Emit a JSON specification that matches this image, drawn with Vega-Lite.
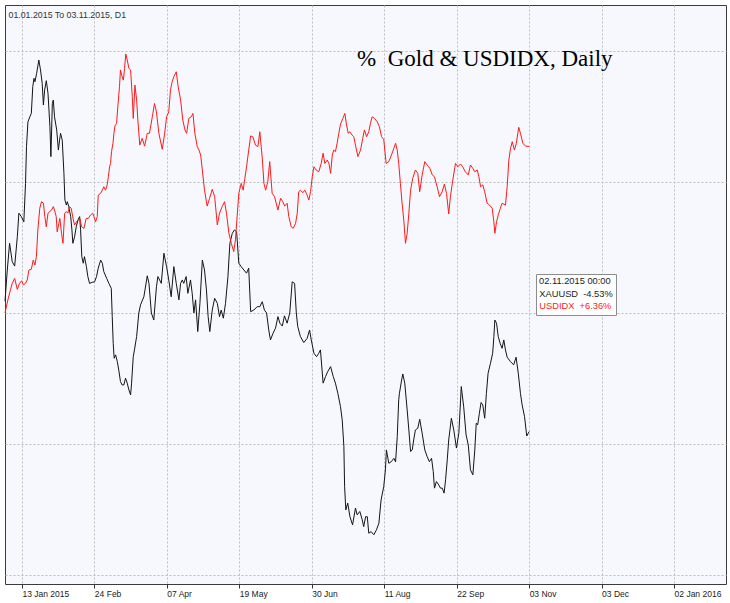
{
  "$schema": "https://vega.github.io/schema/vega-lite/v6.json",
  "width": 721,
  "height": 579,
  "autosize": {"type": "none"},
  "padding": {"left": 5, "top": 5, "right": 4, "bottom": 19},
  "background": "#ffffff",
  "title": {
    "text": "%\u00a0 Gold & USDIDX, Daily",
    "anchor": "start",
    "frame": "group",
    "dx": 352,
    "dy": 84,
    "offset": 0,
    "baseline": "alphabetic",
    "font": "Liberation Serif",
    "fontSize": 23,
    "fontWeight": "normal",
    "color": "#000000"
  },
  "config": {
    "view": {"stroke": "#3c3c3c", "strokeWidth": 1, "fill": "#f6f8fd"}
  },
  "data": {
    "values": [
      {"series":"XAUUSD","bar":0,"pct":0.45},{"series":"XAUUSD","bar":0.95,"pct":1.64},{"series":"XAUUSD","bar":1.9,"pct":2.66},{"series":"XAUUSD","bar":3.0,"pct":1.96},{"series":"XAUUSD","bar":4.0,"pct":1.79},{"series":"XAUUSD","bar":5.1,"pct":2.91},{"series":"XAUUSD","bar":5.75,"pct":3.81},{"series":"XAUUSD","bar":6.75,"pct":3.68},{"series":"XAUUSD","bar":7.8,"pct":3.48},{"series":"XAUUSD","bar":8.5,"pct":4.95},{"series":"XAUUSD","bar":8.9,"pct":6.35},{"series":"XAUUSD","bar":9.5,"pct":7.30},{"series":"XAUUSD","bar":10.3,"pct":7.49},{"series":"XAUUSD","bar":10.9,"pct":7.62},{"series":"XAUUSD","bar":11.5,"pct":8.64},{"series":"XAUUSD","bar":12.0,"pct":8.96},{"series":"XAUUSD","bar":12.4,"pct":8.83},{"series":"XAUUSD","bar":13.1,"pct":9.15},{"series":"XAUUSD","bar":14.0,"pct":9.66},{"series":"XAUUSD","bar":14.7,"pct":9.28},{"series":"XAUUSD","bar":15.4,"pct":8.77},{"series":"XAUUSD","bar":15.9,"pct":7.94},{"series":"XAUUSD","bar":16.4,"pct":8.51},{"series":"XAUUSD","bar":17.1,"pct":8.87},{"series":"XAUUSD","bar":17.8,"pct":8.39},{"series":"XAUUSD","bar":18.6,"pct":7.11},{"series":"XAUUSD","bar":19.0,"pct":5.97},{"series":"XAUUSD","bar":19.6,"pct":8.00},{"series":"XAUUSD","bar":20.0,"pct":8.13},{"series":"XAUUSD","bar":20.5,"pct":7.49},{"series":"XAUUSD","bar":21.4,"pct":6.99},{"series":"XAUUSD","bar":22.1,"pct":6.22},{"series":"XAUUSD","bar":22.6,"pct":6.60},{"series":"XAUUSD","bar":23.0,"pct":6.86},{"series":"XAUUSD","bar":23.7,"pct":6.60},{"series":"XAUUSD","bar":24.4,"pct":5.33},{"series":"XAUUSD","bar":24.8,"pct":4.31},{"series":"XAUUSD","bar":25.4,"pct":4.12},{"series":"XAUUSD","bar":25.8,"pct":4.25},{"series":"XAUUSD","bar":26.4,"pct":4.06},{"series":"XAUUSD","bar":27.2,"pct":3.68},{"series":"XAUUSD","bar":27.7,"pct":3.17},{"series":"XAUUSD","bar":28.1,"pct":2.66},{"series":"XAUUSD","bar":28.8,"pct":2.91},{"series":"XAUUSD","bar":29.5,"pct":3.29},{"series":"XAUUSD","bar":30.2,"pct":3.55},{"series":"XAUUSD","bar":30.9,"pct":3.68},{"series":"XAUUSD","bar":31.3,"pct":3.17},{"series":"XAUUSD","bar":31.8,"pct":2.15},{"series":"XAUUSD","bar":32.4,"pct":1.90},{"series":"XAUUSD","bar":32.9,"pct":2.15},{"series":"XAUUSD","bar":33.7,"pct":1.77},{"series":"XAUUSD","bar":34.3,"pct":1.39},{"series":"XAUUSD","bar":35.0,"pct":1.13},{"series":"XAUUSD","bar":36.1,"pct":1.17},{"series":"XAUUSD","bar":37.1,"pct":1.19},{"series":"XAUUSD","bar":37.9,"pct":1.39},{"series":"XAUUSD","bar":38.6,"pct":1.71},{"series":"XAUUSD","bar":39.6,"pct":2.02},{"series":"XAUUSD","bar":40.3,"pct":1.90},{"series":"XAUUSD","bar":40.9,"pct":1.58},{"series":"XAUUSD","bar":42.1,"pct":1.32},{"series":"XAUUSD","bar":43.0,"pct":1.13},{"series":"XAUUSD","bar":44.0,"pct":0.94},{"series":"XAUUSD","bar":44.4,"pct":-0.14},{"series":"XAUUSD","bar":44.8,"pct":-1.16},{"series":"XAUUSD","bar":45.2,"pct":-1.73},{"series":"XAUUSD","bar":45.8,"pct":-1.60},{"series":"XAUUSD","bar":46.5,"pct":-1.86},{"series":"XAUUSD","bar":47.1,"pct":-2.18},{"series":"XAUUSD","bar":47.8,"pct":-2.62},{"series":"XAUUSD","bar":48.5,"pct":-2.75},{"series":"XAUUSD","bar":49.2,"pct":-2.75},{"series":"XAUUSD","bar":49.9,"pct":-2.49},{"series":"XAUUSD","bar":50.6,"pct":-2.68},{"series":"XAUUSD","bar":51.3,"pct":-2.94},{"series":"XAUUSD","bar":52.0,"pct":-3.13},{"series":"XAUUSD","bar":52.4,"pct":-2.68},{"series":"XAUUSD","bar":53.1,"pct":-1.67},{"series":"XAUUSD","bar":53.6,"pct":-1.41},{"series":"XAUUSD","bar":54.5,"pct":-0.90},{"series":"XAUUSD","bar":55.4,"pct":0.0},{"series":"XAUUSD","bar":56.1,"pct":0.31},{"series":"XAUUSD","bar":57.5,"pct":0.62},{"series":"XAUUSD","bar":58.9,"pct":1.42},{"series":"XAUUSD","bar":59.6,"pct":1.13},{"series":"XAUUSD","bar":60.6,"pct":0.0},{"series":"XAUUSD","bar":61.6,"pct":-0.27},{"series":"XAUUSD","bar":62.7,"pct":1.00},{"series":"XAUUSD","bar":63.3,"pct":1.39},{"series":"XAUUSD","bar":64.7,"pct":1.13},{"series":"XAUUSD","bar":65.8,"pct":2.28},{"series":"XAUUSD","bar":66.9,"pct":1.77},{"series":"XAUUSD","bar":67.8,"pct":1.26},{"series":"XAUUSD","bar":68.8,"pct":0.62},{"series":"XAUUSD","bar":69.9,"pct":1.77},{"series":"XAUUSD","bar":70.9,"pct":1.13},{"series":"XAUUSD","bar":72.0,"pct":0.50},{"series":"XAUUSD","bar":72.7,"pct":1.13},{"series":"XAUUSD","bar":73.4,"pct":1.26},{"series":"XAUUSD","bar":74.0,"pct":1.13},{"series":"XAUUSD","bar":75.0,"pct":1.39},{"series":"XAUUSD","bar":75.7,"pct":0.75},{"series":"XAUUSD","bar":76.8,"pct":1.26},{"series":"XAUUSD","bar":77.5,"pct":0.75},{"series":"XAUUSD","bar":78.2,"pct":0.0},{"series":"XAUUSD","bar":78.9,"pct":0.50},{"series":"XAUUSD","bar":79.8,"pct":-0.71},{"series":"XAUUSD","bar":80.7,"pct":0.37},{"series":"XAUUSD","bar":81.7,"pct":2.02},{"series":"XAUUSD","bar":82.6,"pct":1.64},{"series":"XAUUSD","bar":83.4,"pct":0.88},{"series":"XAUUSD","bar":84.1,"pct":-0.14},{"series":"XAUUSD","bar":84.8,"pct":-0.71},{"series":"XAUUSD","bar":85.8,"pct":0.11},{"series":"XAUUSD","bar":86.8,"pct":0.56},{"series":"XAUUSD","bar":87.9,"pct":0.37},{"series":"XAUUSD","bar":88.8,"pct":-0.14},{"series":"XAUUSD","bar":89.5,"pct":0.11},{"series":"XAUUSD","bar":90.4,"pct":-0.20},{"series":"XAUUSD","bar":91.3,"pct":0.37},{"series":"XAUUSD","bar":92.3,"pct":1.39},{"series":"XAUUSD","bar":93.1,"pct":2.66},{"series":"XAUUSD","bar":94.1,"pct":3.04},{"series":"XAUUSD","bar":95.0,"pct":3.17},{"series":"XAUUSD","bar":95.9,"pct":3.10},{"series":"XAUUSD","bar":96.8,"pct":1.90},{"series":"XAUUSD","bar":97.8,"pct":1.77},{"series":"XAUUSD","bar":98.9,"pct":1.64},{"series":"XAUUSD","bar":100.0,"pct":1.52},{"series":"XAUUSD","bar":100.9,"pct":1.71},{"series":"XAUUSD","bar":101.7,"pct":0.05},{"series":"XAUUSD","bar":103.0,"pct":0.11},{"series":"XAUUSD","bar":104.4,"pct":0.24},{"series":"XAUUSD","bar":105.5,"pct":0.24},{"series":"XAUUSD","bar":106.5,"pct":0.43},{"series":"XAUUSD","bar":107.4,"pct":0.11},{"series":"XAUUSD","bar":108.3,"pct":0.0},{"series":"XAUUSD","bar":109.2,"pct":-0.65},{"series":"XAUUSD","bar":109.9,"pct":-1.03},{"series":"XAUUSD","bar":111.0,"pct":-0.77},{"series":"XAUUSD","bar":112.0,"pct":-0.58},{"series":"XAUUSD","bar":113.0,"pct":-0.14},{"series":"XAUUSD","bar":113.8,"pct":-0.39},{"series":"XAUUSD","bar":114.8,"pct":-0.50},{"series":"XAUUSD","bar":115.7,"pct":-0.11},{"series":"XAUUSD","bar":116.8,"pct":-0.39},{"series":"XAUUSD","bar":117.9,"pct":0.0},{"series":"XAUUSD","bar":118.9,"pct":1.19},{"series":"XAUUSD","bar":119.9,"pct":1.13},{"series":"XAUUSD","bar":120.6,"pct":0.0},{"series":"XAUUSD","bar":121.2,"pct":-0.52},{"series":"XAUUSD","bar":122.3,"pct":-0.90},{"series":"XAUUSD","bar":123.7,"pct":-1.13},{"series":"XAUUSD","bar":125.1,"pct":-0.97},{"series":"XAUUSD","bar":126.1,"pct":-0.65},{"series":"XAUUSD","bar":126.8,"pct":-1.03},{"series":"XAUUSD","bar":127.9,"pct":-1.54},{"series":"XAUUSD","bar":129.0,"pct":-1.67},{"series":"XAUUSD","bar":129.9,"pct":-1.54},{"series":"XAUUSD","bar":130.6,"pct":-1.41},{"series":"XAUUSD","bar":131.7,"pct":-2.68},{"series":"XAUUSD","bar":132.7,"pct":-2.43},{"series":"XAUUSD","bar":133.6,"pct":-2.24},{"series":"XAUUSD","bar":134.8,"pct":-2.05},{"series":"XAUUSD","bar":135.9,"pct":-2.43},{"series":"XAUUSD","bar":136.8,"pct":-2.68},{"series":"XAUUSD","bar":137.8,"pct":-3.07},{"series":"XAUUSD","bar":138.9,"pct":-3.58},{"series":"XAUUSD","bar":139.6,"pct":-4.08},{"series":"XAUUSD","bar":140.3,"pct":-5.10},{"series":"XAUUSD","bar":140.6,"pct":-6.63},{"series":"XAUUSD","bar":141.1,"pct":-7.52},{"series":"XAUUSD","bar":141.9,"pct":-7.26},{"series":"XAUUSD","bar":142.8,"pct":-7.78},{"series":"XAUUSD","bar":143.9,"pct":-8.09},{"series":"XAUUSD","bar":145.1,"pct":-7.45},{"series":"XAUUSD","bar":145.8,"pct":-7.71},{"series":"XAUUSD","bar":146.9,"pct":-7.58},{"series":"XAUUSD","bar":147.9,"pct":-7.90},{"series":"XAUUSD","bar":148.5,"pct":-8.16},{"series":"XAUUSD","bar":149.3,"pct":-7.78},{"series":"XAUUSD","bar":150.0,"pct":-7.78},{"series":"XAUUSD","bar":150.6,"pct":-8.41},{"series":"XAUUSD","bar":151.6,"pct":-8.35},{"series":"XAUUSD","bar":152.7,"pct":-8.47},{"series":"XAUUSD","bar":153.8,"pct":-8.28},{"series":"XAUUSD","bar":154.8,"pct":-8.03},{"series":"XAUUSD","bar":155.7,"pct":-7.14},{"series":"XAUUSD","bar":156.8,"pct":-6.63},{"series":"XAUUSD","bar":157.5,"pct":-5.99},{"series":"XAUUSD","bar":157.9,"pct":-5.23},{"series":"XAUUSD","bar":158.9,"pct":-5.74},{"series":"XAUUSD","bar":159.9,"pct":-5.68},{"series":"XAUUSD","bar":161.0,"pct":-5.55},{"series":"XAUUSD","bar":161.7,"pct":-5.69},{"series":"XAUUSD","bar":162.4,"pct":-4.72},{"series":"XAUUSD","bar":163.0,"pct":-3.32},{"series":"XAUUSD","bar":163.3,"pct":-3.07},{"series":"XAUUSD","bar":164.2,"pct":-2.56},{"series":"XAUUSD","bar":164.7,"pct":-2.33},{"series":"XAUUSD","bar":165.5,"pct":-2.68},{"series":"XAUUSD","bar":166.5,"pct":-3.70},{"series":"XAUUSD","bar":167.2,"pct":-4.47},{"series":"XAUUSD","bar":167.9,"pct":-5.29},{"series":"XAUUSD","bar":168.6,"pct":-5.23},{"series":"XAUUSD","bar":169.2,"pct":-4.85},{"series":"XAUUSD","bar":169.9,"pct":-4.47},{"series":"XAUUSD","bar":170.9,"pct":-4.40},{"series":"XAUUSD","bar":171.7,"pct":-4.06},{"series":"XAUUSD","bar":172.7,"pct":-4.59},{"series":"XAUUSD","bar":173.8,"pct":-5.23},{"series":"XAUUSD","bar":174.8,"pct":-5.49},{"series":"XAUUSD","bar":175.7,"pct":-5.68},{"series":"XAUUSD","bar":176.6,"pct":-5.55},{"series":"XAUUSD","bar":177.3,"pct":-6.06},{"series":"XAUUSD","bar":177.8,"pct":-6.69},{"series":"XAUUSD","bar":178.6,"pct":-6.44},{"series":"XAUUSD","bar":179.6,"pct":-6.57},{"series":"XAUUSD","bar":180.3,"pct":-6.69},{"series":"XAUUSD","bar":181.0,"pct":-6.69},{"series":"XAUUSD","bar":181.8,"pct":-6.88},{"series":"XAUUSD","bar":182.4,"pct":-6.37},{"series":"XAUUSD","bar":183.1,"pct":-5.61},{"series":"XAUUSD","bar":183.7,"pct":-4.85},{"series":"XAUUSD","bar":184.8,"pct":-4.02},{"series":"XAUUSD","bar":185.8,"pct":-4.47},{"series":"XAUUSD","bar":186.9,"pct":-5.16},{"series":"XAUUSD","bar":187.9,"pct":-4.59},{"series":"XAUUSD","bar":188.9,"pct":-2.81},{"series":"XAUUSD","bar":189.9,"pct":-3.58},{"series":"XAUUSD","bar":190.9,"pct":-4.66},{"series":"XAUUSD","bar":191.8,"pct":-5.04},{"series":"XAUUSD","bar":192.7,"pct":-5.99},{"series":"XAUUSD","bar":193.7,"pct":-6.18},{"series":"XAUUSD","bar":194.5,"pct":-5.23},{"series":"XAUUSD","bar":195.1,"pct":-4.21},{"series":"XAUUSD","bar":195.7,"pct":-4.27},{"series":"XAUUSD","bar":196.4,"pct":-3.83},{"series":"XAUUSD","bar":197.1,"pct":-3.42},{"series":"XAUUSD","bar":197.8,"pct":-3.51},{"series":"XAUUSD","bar":198.6,"pct":-4.02},{"series":"XAUUSD","bar":199.3,"pct":-3.07},{"series":"XAUUSD","bar":200.0,"pct":-2.30},{"series":"XAUUSD","bar":201.0,"pct":-1.92},{"series":"XAUUSD","bar":201.9,"pct":-1.54},{"series":"XAUUSD","bar":202.4,"pct":-0.90},{"series":"XAUUSD","bar":202.8,"pct":-0.27},{"series":"XAUUSD","bar":203.5,"pct":-0.39},{"series":"XAUUSD","bar":204.2,"pct":-0.90},{"series":"XAUUSD","bar":205.0,"pct":-1.16},{"series":"XAUUSD","bar":205.8,"pct":-1.35},{"series":"XAUUSD","bar":206.5,"pct":-1.03},{"series":"XAUUSD","bar":207.2,"pct":-1.41},{"series":"XAUUSD","bar":207.9,"pct":-1.69},{"series":"XAUUSD","bar":209.3,"pct":-1.86},{"series":"XAUUSD","bar":210.6,"pct":-1.98},{"series":"XAUUSD","bar":211.6,"pct":-1.69},{"series":"XAUUSD","bar":212.5,"pct":-2.30},{"series":"XAUUSD","bar":213.4,"pct":-3.07},{"series":"XAUUSD","bar":214.1,"pct":-3.51},{"series":"XAUUSD","bar":215.1,"pct":-3.96},{"series":"XAUUSD","bar":216.0,"pct":-4.70},{"series":"XAUUSD","bar":217.0,"pct":-4.53},
      {"series":"USDIDX","bar":0,"pct":0},{"series":"USDIDX","bar":1.2,"pct":0.50},{"series":"USDIDX","bar":2.3,"pct":0.90},{"series":"USDIDX","bar":3.0,"pct":1.13},{"series":"USDIDX","bar":4.0,"pct":1.32},{"series":"USDIDX","bar":5.1,"pct":0.90},{"series":"USDIDX","bar":6.0,"pct":1.13},{"series":"USDIDX","bar":6.9,"pct":1.23},{"series":"USDIDX","bar":7.6,"pct":1.07},{"series":"USDIDX","bar":8.5,"pct":1.13},{"series":"USDIDX","bar":9.2,"pct":1.26},{"series":"USDIDX","bar":9.9,"pct":1.64},{"series":"USDIDX","bar":10.9,"pct":1.67},{"series":"USDIDX","bar":11.7,"pct":2.02},{"series":"USDIDX","bar":12.4,"pct":1.83},{"series":"USDIDX","bar":13.0,"pct":2.15},{"series":"USDIDX","bar":13.6,"pct":3.17},{"series":"USDIDX","bar":14.4,"pct":4.00},{"series":"USDIDX","bar":15.1,"pct":4.25},{"series":"USDIDX","bar":15.9,"pct":4.19},{"series":"USDIDX","bar":16.5,"pct":3.68},{"series":"USDIDX","bar":17.1,"pct":3.29},{"series":"USDIDX","bar":17.8,"pct":3.81},{"series":"USDIDX","bar":18.5,"pct":3.87},{"series":"USDIDX","bar":19.3,"pct":3.93},{"series":"USDIDX","bar":20.0,"pct":4.06},{"series":"USDIDX","bar":20.5,"pct":3.93},{"series":"USDIDX","bar":21.2,"pct":3.68},{"series":"USDIDX","bar":21.6,"pct":3.10},{"series":"USDIDX","bar":22.3,"pct":3.42},{"series":"USDIDX","bar":22.7,"pct":3.61},{"series":"USDIDX","bar":23.4,"pct":3.04},{"series":"USDIDX","bar":24.0,"pct":2.66},{"series":"USDIDX","bar":24.7,"pct":3.81},{"series":"USDIDX","bar":25.4,"pct":3.87},{"series":"USDIDX","bar":26.0,"pct":3.81},{"series":"USDIDX","bar":26.7,"pct":4.06},{"series":"USDIDX","bar":27.4,"pct":4.00},{"series":"USDIDX","bar":28.3,"pct":3.55},{"series":"USDIDX","bar":28.8,"pct":3.36},{"series":"USDIDX","bar":29.6,"pct":3.48},{"series":"USDIDX","bar":30.3,"pct":3.55},{"series":"USDIDX","bar":31.0,"pct":3.61},{"series":"USDIDX","bar":31.7,"pct":3.29},{"series":"USDIDX","bar":32.7,"pct":3.23},{"series":"USDIDX","bar":33.6,"pct":3.61},{"series":"USDIDX","bar":34.5,"pct":3.61},{"series":"USDIDX","bar":35.4,"pct":3.74},{"series":"USDIDX","bar":36.3,"pct":3.81},{"series":"USDIDX","bar":36.8,"pct":3.68},{"series":"USDIDX","bar":37.5,"pct":3.48},{"series":"USDIDX","bar":38.2,"pct":3.68},{"series":"USDIDX","bar":38.6,"pct":4.50},{"series":"USDIDX","bar":39.6,"pct":4.57},{"series":"USDIDX","bar":40.3,"pct":4.69},{"series":"USDIDX","bar":40.9,"pct":4.82},{"series":"USDIDX","bar":41.6,"pct":4.69},{"series":"USDIDX","bar":42.3,"pct":4.89},{"series":"USDIDX","bar":42.8,"pct":5.20},{"series":"USDIDX","bar":43.3,"pct":5.58},{"series":"USDIDX","bar":43.7,"pct":5.71},{"series":"USDIDX","bar":44.1,"pct":6.16},{"series":"USDIDX","bar":44.7,"pct":6.48},{"series":"USDIDX","bar":45.1,"pct":6.86},{"series":"USDIDX","bar":45.5,"pct":7.14},{"series":"USDIDX","bar":46.2,"pct":7.24},{"series":"USDIDX","bar":46.7,"pct":7.87},{"series":"USDIDX","bar":47.4,"pct":8.64},{"series":"USDIDX","bar":47.8,"pct":9.28},{"series":"USDIDX","bar":48.5,"pct":9.02},{"series":"USDIDX","bar":49.0,"pct":8.89},{"series":"USDIDX","bar":49.5,"pct":9.34},{"series":"USDIDX","bar":50.0,"pct":9.89},{"series":"USDIDX","bar":50.6,"pct":9.66},{"series":"USDIDX","bar":51.3,"pct":9.34},{"series":"USDIDX","bar":52.0,"pct":9.28},{"series":"USDIDX","bar":52.7,"pct":8.26},{"series":"USDIDX","bar":53.1,"pct":7.43},{"series":"USDIDX","bar":53.8,"pct":8.70},{"series":"USDIDX","bar":54.5,"pct":8.13},{"series":"USDIDX","bar":55.0,"pct":7.37},{"series":"USDIDX","bar":55.8,"pct":6.41},{"series":"USDIDX","bar":56.8,"pct":6.67},{"series":"USDIDX","bar":57.8,"pct":6.37},{"series":"USDIDX","bar":58.9,"pct":6.86},{"series":"USDIDX","bar":59.8,"pct":6.86},{"series":"USDIDX","bar":61.0,"pct":7.49},{"series":"USDIDX","bar":61.9,"pct":8.00},{"series":"USDIDX","bar":62.7,"pct":7.68},{"series":"USDIDX","bar":63.7,"pct":6.86},{"series":"USDIDX","bar":65.1,"pct":6.25},{"series":"USDIDX","bar":66.1,"pct":6.86},{"series":"USDIDX","bar":66.9,"pct":7.49},{"series":"USDIDX","bar":67.8,"pct":7.68},{"series":"USDIDX","bar":68.5,"pct":8.51},{"series":"USDIDX","bar":69.2,"pct":8.83},{"series":"USDIDX","bar":69.9,"pct":9.02},{"series":"USDIDX","bar":70.9,"pct":9.21},{"series":"USDIDX","bar":71.7,"pct":8.64},{"series":"USDIDX","bar":72.7,"pct":8.13},{"series":"USDIDX","bar":73.6,"pct":7.37},{"series":"USDIDX","bar":74.5,"pct":6.99},{"series":"USDIDX","bar":75.2,"pct":6.86},{"series":"USDIDX","bar":76.1,"pct":7.43},{"series":"USDIDX","bar":77.1,"pct":7.49},{"series":"USDIDX","bar":77.8,"pct":7.62},{"series":"USDIDX","bar":78.6,"pct":6.86},{"series":"USDIDX","bar":79.6,"pct":6.35},{"series":"USDIDX","bar":80.3,"pct":6.22},{"series":"USDIDX","bar":81.0,"pct":6.03},{"series":"USDIDX","bar":81.7,"pct":5.46},{"series":"USDIDX","bar":82.6,"pct":4.69},{"series":"USDIDX","bar":83.7,"pct":4.08},{"series":"USDIDX","bar":84.7,"pct":4.38},{"series":"USDIDX","bar":85.8,"pct":4.72},{"series":"USDIDX","bar":86.8,"pct":4.44},{"series":"USDIDX","bar":87.9,"pct":3.36},{"series":"USDIDX","bar":88.8,"pct":3.81},{"series":"USDIDX","bar":89.9,"pct":4.06},{"series":"USDIDX","bar":90.9,"pct":4.25},{"series":"USDIDX","bar":91.7,"pct":3.81},{"series":"USDIDX","bar":92.7,"pct":3.04},{"series":"USDIDX","bar":93.7,"pct":2.66},{"series":"USDIDX","bar":94.7,"pct":2.34},{"series":"USDIDX","bar":95.4,"pct":2.79},{"series":"USDIDX","bar":96.1,"pct":3.68},{"series":"USDIDX","bar":96.8,"pct":4.57},{"series":"USDIDX","bar":97.8,"pct":4.95},{"series":"USDIDX","bar":98.6,"pct":4.69},{"series":"USDIDX","bar":99.3,"pct":5.14},{"series":"USDIDX","bar":100.0,"pct":5.58},{"series":"USDIDX","bar":100.9,"pct":6.22},{"series":"USDIDX","bar":101.7,"pct":6.76},{"series":"USDIDX","bar":102.6,"pct":6.73},{"series":"USDIDX","bar":103.7,"pct":6.41},{"series":"USDIDX","bar":104.7,"pct":6.35},{"series":"USDIDX","bar":105.5,"pct":6.92},{"series":"USDIDX","bar":106.5,"pct":5.92},{"series":"USDIDX","bar":107.2,"pct":4.95},{"series":"USDIDX","bar":107.9,"pct":4.69},{"series":"USDIDX","bar":108.8,"pct":5.01},{"series":"USDIDX","bar":109.6,"pct":5.78},{"series":"USDIDX","bar":110.6,"pct":4.57},{"series":"USDIDX","bar":111.6,"pct":4.44},{"series":"USDIDX","bar":113.0,"pct":3.93},{"series":"USDIDX","bar":114.1,"pct":4.38},{"series":"USDIDX","bar":115.0,"pct":4.25},{"series":"USDIDX","bar":115.8,"pct":4.08},{"series":"USDIDX","bar":116.8,"pct":4.19},{"series":"USDIDX","bar":117.5,"pct":3.68},{"series":"USDIDX","bar":118.5,"pct":3.29},{"series":"USDIDX","bar":119.3,"pct":3.23},{"series":"USDIDX","bar":120.3,"pct":3.42},{"series":"USDIDX","bar":121.0,"pct":3.81},{"series":"USDIDX","bar":121.6,"pct":4.63},{"series":"USDIDX","bar":122.3,"pct":4.69},{"series":"USDIDX","bar":123.3,"pct":4.59},{"series":"USDIDX","bar":124.1,"pct":4.69},{"series":"USDIDX","bar":125.1,"pct":4.50},{"series":"USDIDX","bar":125.8,"pct":4.31},{"series":"USDIDX","bar":126.5,"pct":4.63},{"series":"USDIDX","bar":127.2,"pct":5.20},{"series":"USDIDX","bar":127.9,"pct":5.58},{"series":"USDIDX","bar":128.8,"pct":5.46},{"series":"USDIDX","bar":129.9,"pct":5.39},{"series":"USDIDX","bar":130.9,"pct":5.71},{"series":"USDIDX","bar":131.7,"pct":6.10},{"series":"USDIDX","bar":132.4,"pct":5.71},{"series":"USDIDX","bar":133.4,"pct":5.84},{"series":"USDIDX","bar":134.1,"pct":5.71},{"series":"USDIDX","bar":134.8,"pct":5.33},{"series":"USDIDX","bar":135.5,"pct":6.03},{"series":"USDIDX","bar":136.1,"pct":6.22},{"series":"USDIDX","bar":136.8,"pct":6.16},{"series":"USDIDX","bar":137.5,"pct":6.48},{"series":"USDIDX","bar":138.2,"pct":6.86},{"series":"USDIDX","bar":138.9,"pct":7.21},{"series":"USDIDX","bar":139.9,"pct":7.43},{"series":"USDIDX","bar":140.7,"pct":7.62},{"series":"USDIDX","bar":141.4,"pct":7.18},{"series":"USDIDX","bar":142.1,"pct":6.86},{"series":"USDIDX","bar":142.8,"pct":6.92},{"series":"USDIDX","bar":143.7,"pct":6.79},{"series":"USDIDX","bar":144.4,"pct":6.73},{"series":"USDIDX","bar":145.1,"pct":6.41},{"series":"USDIDX","bar":146.1,"pct":5.97},{"series":"USDIDX","bar":147.2,"pct":6.22},{"series":"USDIDX","bar":148.1,"pct":6.67},{"series":"USDIDX","bar":148.8,"pct":6.99},{"series":"USDIDX","bar":149.7,"pct":6.73},{"series":"USDIDX","bar":150.6,"pct":6.92},{"series":"USDIDX","bar":151.3,"pct":7.24},{"series":"USDIDX","bar":152.0,"pct":7.49},{"series":"USDIDX","bar":153.0,"pct":7.43},{"series":"USDIDX","bar":154.1,"pct":7.30},{"series":"USDIDX","bar":155.0,"pct":7.11},{"series":"USDIDX","bar":155.9,"pct":6.73},{"series":"USDIDX","bar":156.8,"pct":6.63},{"series":"USDIDX","bar":157.8,"pct":5.71},{"series":"USDIDX","bar":158.9,"pct":5.78},{"series":"USDIDX","bar":160.0,"pct":6.03},{"series":"USDIDX","bar":161.0,"pct":6.29},{"series":"USDIDX","bar":161.7,"pct":6.48},{"series":"USDIDX","bar":162.4,"pct":6.22},{"series":"USDIDX","bar":163.0,"pct":5.71},{"series":"USDIDX","bar":163.7,"pct":4.95},{"series":"USDIDX","bar":164.4,"pct":4.19},{"series":"USDIDX","bar":165.1,"pct":3.55},{"series":"USDIDX","bar":165.8,"pct":2.66},{"series":"USDIDX","bar":166.5,"pct":3.04},{"series":"USDIDX","bar":167.2,"pct":3.81},{"series":"USDIDX","bar":167.9,"pct":4.69},{"series":"USDIDX","bar":168.8,"pct":5.14},{"series":"USDIDX","bar":169.9,"pct":5.46},{"series":"USDIDX","bar":170.9,"pct":5.33},{"series":"USDIDX","bar":171.7,"pct":4.63},{"series":"USDIDX","bar":172.7,"pct":5.27},{"series":"USDIDX","bar":173.8,"pct":5.78},{"series":"USDIDX","bar":174.8,"pct":5.65},{"series":"USDIDX","bar":175.9,"pct":5.52},{"series":"USDIDX","bar":176.9,"pct":5.27},{"series":"USDIDX","bar":177.8,"pct":5.20},{"series":"USDIDX","bar":178.9,"pct":4.82},{"series":"USDIDX","bar":179.9,"pct":4.44},{"series":"USDIDX","bar":181.0,"pct":4.63},{"series":"USDIDX","bar":181.9,"pct":4.92},{"series":"USDIDX","bar":182.8,"pct":4.57},{"series":"USDIDX","bar":183.7,"pct":3.78},{"series":"USDIDX","bar":184.4,"pct":4.44},{"series":"USDIDX","bar":185.4,"pct":5.08},{"series":"USDIDX","bar":186.5,"pct":5.71},{"series":"USDIDX","bar":187.5,"pct":5.58},{"series":"USDIDX","bar":188.6,"pct":5.69},{"series":"USDIDX","bar":189.5,"pct":5.58},{"series":"USDIDX","bar":190.6,"pct":5.39},{"series":"USDIDX","bar":191.8,"pct":5.27},{"series":"USDIDX","bar":192.7,"pct":5.65},{"series":"USDIDX","bar":193.7,"pct":5.52},{"series":"USDIDX","bar":194.5,"pct":5.39},{"series":"USDIDX","bar":195.5,"pct":5.46},{"series":"USDIDX","bar":196.2,"pct":5.20},{"series":"USDIDX","bar":196.9,"pct":4.82},{"series":"USDIDX","bar":197.8,"pct":4.89},{"series":"USDIDX","bar":198.6,"pct":4.63},{"series":"USDIDX","bar":199.6,"pct":4.19},{"series":"USDIDX","bar":200.6,"pct":4.12},{"series":"USDIDX","bar":201.7,"pct":4.00},{"series":"USDIDX","bar":202.4,"pct":3.48},{"series":"USDIDX","bar":202.8,"pct":3.04},{"series":"USDIDX","bar":203.5,"pct":3.48},{"series":"USDIDX","bar":204.2,"pct":3.74},{"series":"USDIDX","bar":205.1,"pct":4.00},{"series":"USDIDX","bar":205.8,"pct":4.19},{"series":"USDIDX","bar":207.2,"pct":4.12},{"series":"USDIDX","bar":207.9,"pct":4.82},{"series":"USDIDX","bar":208.6,"pct":5.84},{"series":"USDIDX","bar":209.3,"pct":6.29},{"series":"USDIDX","bar":210.0,"pct":6.54},{"series":"USDIDX","bar":210.9,"pct":6.22},{"series":"USDIDX","bar":211.7,"pct":6.48},{"series":"USDIDX","bar":212.7,"pct":7.09},{"series":"USDIDX","bar":213.4,"pct":6.86},{"series":"USDIDX","bar":214.4,"pct":6.48},{"series":"USDIDX","bar":215.5,"pct":6.37},{"series":"USDIDX","bar":217.0,"pct":6.36}
    ]
  },
  "mark": {"type": "line", "strokeWidth": 1, "interpolate": "linear"},
  "encoding": {
    "x": {
      "field": "bar",
      "type": "quantitative",
      "scale": {"domain": [0, 298.5], "nice": false, "zero": false},
      "axis": {
        "values": [7, 37, 67, 97, 127, 157, 187, 217, 247, 277],
        "labelExpr": "['13 Jan 2015','24 Feb','07 Apr','19 May','30 Jun','11 Aug','22 Sep','03 Nov','03 Dec','02 Jan 2016'][round((datum.value - 7) / 30)]",
        "title": null,
        "grid": true,
        "gridDash": [2, 2],
        "gridColor": "#bdbdbd",
        "domain": false,
        "ticks": true,
        "tickSize": 4,
        "tickColor": "#333333",
        "labelAlign": "left",
        "labelBaseline": "top",
        "labelPadding": 1,
        "labelFont": "Liberation Sans",
        "labelFontSize": 8.5,
        "labelColor": "#222222",
        "labelFlush": false,
        "labelOverlap": false,
        "labelBound": false
      }
    },
    "y": {
      "field": "pct",
      "type": "quantitative",
      "scale": {"domain": [-10.35, 11.76], "nice": false, "zero": false},
      "axis": {
        "values": [-10, -5, 0, 5, 10],
        "labels": false,
        "ticks": false,
        "domain": false,
        "grid": true,
        "gridDash": [2, 2],
        "gridColor": "#bdbdbd",
        "title": "01.01.2015 To 03.11.2015, D1",
        "titleAngle": 0,
        "titleX": 3,
        "titleY": 12,
        "titleAlign": "left",
        "titleBaseline": "alphabetic",
        "titleFont": "Liberation Sans",
        "titleFontSize": 8.8,
        "titleFontWeight": "normal",
        "titleColor": "#333333"
      }
    },
    "color": {
      "field": "series",
      "type": "nominal",
      "scale": {"domain": ["XAUUSD", "USDIDX"], "range": ["#141414", "#ff1a1a"]},
      "legend": {
        "orient": "none",
        "legendX": 531,
        "legendY": 269,
        "title": "02.11.2015 00:00",
        "titleFont": "Liberation Sans",
        "titleFontSize": 9.3,
        "titleFontWeight": "normal",
        "titleColor": "#222222",
        "titlePadding": 3,
        "labelFont": "Liberation Sans",
        "labelFontSize": 9.3,
        "labelColor": "#222222",
        "labelExpr": "datum.label == 'XAUUSD' ? 'XAUUSD\u00a0 -4.53%' : 'USDIDX\u00a0 +6.36%'",
        "symbolSize": 0,
        "symbolStrokeWidth": 0,
        "symbolOpacity": 0,
        "labelOffset": -9,
        "rowPadding": 2,
        "padding": 3,
        "fillColor": "#ffffff",
        "strokeColor": "#8c8c8c",
        "cornerRadius": 0,
        "encode": {
          "labels": {
            "update": {
              "fill": {"signal": "datum.value === 'USDIDX' ? '#ff2020' : '#222222'"}
            }
          }
        }
      }
    }
  }
}
